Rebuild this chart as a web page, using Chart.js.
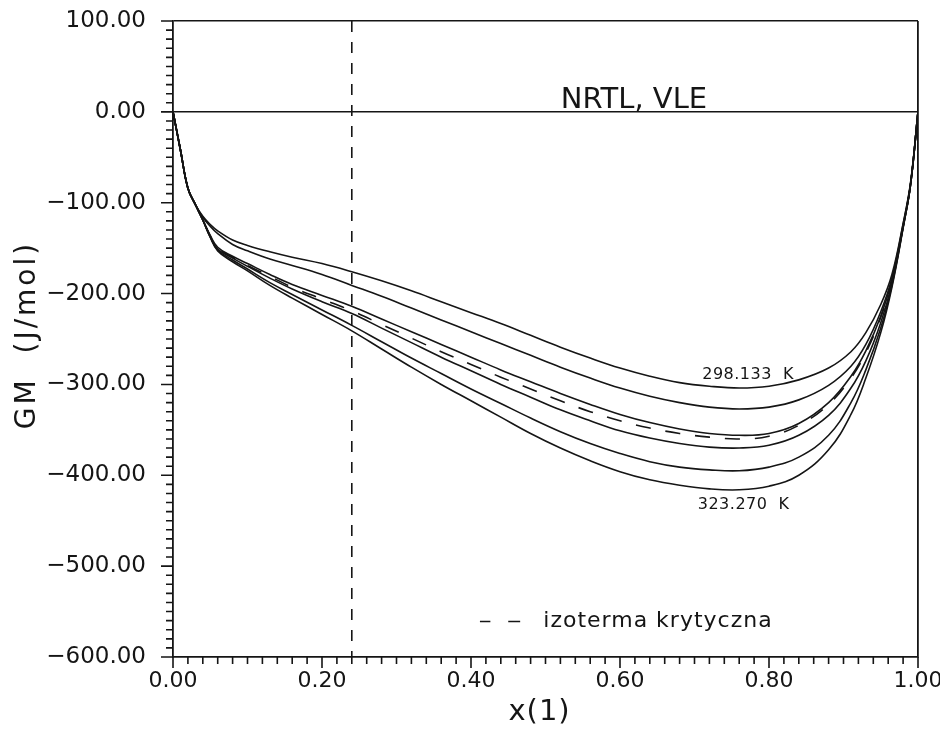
<!DOCTYPE html>
<html>
<head>
<meta charset="utf-8">
<script src="https://cdn.jsdelivr.net/npm/chart.js@4.4.0/dist/chart.umd.min.js"></script>
<style>
  html, body { margin: 0; padding: 0; background: #fff; }
  canvas { display: block; }
</style>
</head>
<body>
<canvas id="gm" width="940" height="729"></canvas>
<script>
// Mole fraction of component 1
const xMole = [0, 0.005, 0.01, 0.02, 0.03, 0.04, 0.05, 0.06, 0.08, 0.10,
               0.13, 0.16, 0.20, 0.24, 0.28, 0.32, 0.36, 0.40, 0.44, 0.48,
               0.52, 0.56, 0.60, 0.64, 0.68, 0.72, 0.76, 0.80, 0.84, 0.88,
               0.91, 0.93, 0.95, 0.965, 0.98, 0.99, 1.0];

// Gibbs energy of mixing, J/mol, one isotherm per array (top to bottom)
const gmT298 = [0, -21, -42, -84, -102, -115, -124, -131, -141, -147,
                -154, -160, -167, -176, -186, -197, -209, -221, -233, -246,
                -259, -271, -282, -291, -298, -302, -304, -302, -295, -282,
                -264, -243, -212, -179, -123, -78, 0];
const gmT2 = [0, -21, -42, -84, -102, -116, -126, -134, -146, -153,
              -162, -169, -179, -191, -203, -216, -229, -242, -255, -268,
              -281, -293, -304, -313, -320, -325, -327, -325, -317, -301,
              -280, -256, -220, -183, -124, -79, 0];
const gmT3 = [0, -21, -42, -84, -102, -119, -136, -149, -159, -167,
              -179, -190, -202, -214, -228, -242, -256, -270, -284, -297,
              -310, -322, -333, -342, -349, -354, -356, -354, -343, -320,
              -291, -263, -225, -185, -126, -80, 0];
const gmCritical = [0, -21, -42, -84, -102, -119, -137, -150, -160, -169,
                    -181, -193, -206, -219, -234, -249, -264, -278, -292, -305,
                    -318, -330, -340, -348, -354, -358, -360, -357, -345, -322,
                    -293, -265, -226, -186, -126, -80, 0];
const gmT4 = [0, -21, -42, -84, -102, -119, -137, -151, -161, -170,
              -183, -195, -209, -222, -238, -254, -270, -285, -300, -314,
              -328, -340, -351, -359, -365, -369, -370, -367, -356, -334,
              -304, -274, -232, -189, -127, -80, 0];
const gmT5 = [0, -21, -42, -84, -102, -119, -138, -152, -163, -173,
              -188, -201, -218, -235, -253, -271, -288, -305, -321, -337,
              -352, -365, -376, -385, -391, -394, -395, -391, -380, -356,
              -320, -284, -238, -191, -127, -80, 0];
const gmT323 = [0, -21, -42, -84, -102, -119, -138, -153, -165, -175,
                -191, -205, -223, -241, -261, -281, -300, -318, -336, -354,
                -370, -384, -396, -405, -411, -415, -416, -412, -400, -372,
                -333, -293, -243, -193, -128, -80, 0];

// Composition marker (vertical dashed line)
const markerX = 0.24;

// Axis tick values
const xTickValues = [0, 0.2, 0.4, 0.6, 0.8, 1.0];
const yTickValues = [100, 0, -100, -200, -300, -400, -500, -600];

const ink = '#151515';
const font = '"DejaVu Sans", "Liberation Sans", sans-serif';
Chart.defaults.font.family = font;
Chart.defaults.color = ink;

const pts = ys => xMole.map((x, i) => ({ x, y: ys[i] }));
const solid = ys => ({
  data: pts(ys), borderColor: ink, borderWidth: 1.6, pointRadius: 0,
  fill: false, tension: 0.4
});

const fmt = v => (v < 0 ? '\u2212' : '') + Math.abs(v).toFixed(2);

// Minor/major tick marks, annotations, legend and axis titles
const decor = {
  id: 'decor',
  afterDraw(chart) {
    const { ctx, chartArea: a, scales: { x, y } } = chart;
    ctx.save();
    ctx.strokeStyle = ink;
    ctx.lineWidth = 1.6;
    ctx.beginPath();
    for (let k = -60; k <= 10; k++) {
      const py = y.getPixelForValue(k * 10);
      const len = k % 10 === 0 ? 12 : 7;
      ctx.moveTo(a.left, py);
      ctx.lineTo(a.left - len, py);
    }
    for (let k = 0; k <= 50; k++) {
      const px = x.getPixelForValue(k / 50);
      const len = k % 10 === 0 ? 11 : 7;
      ctx.moveTo(px, a.bottom);
      ctx.lineTo(px, a.bottom + len);
    }
    ctx.stroke();

    ctx.fillStyle = ink;
    // title inside the plot
    ctx.font = '29px ' + font;
    ctx.textAlign = 'right';
    ctx.textBaseline = 'alphabetic';
    ctx.fillText('NRTL, VLE', x.getPixelForValue(0.717), y.getPixelForValue(4));

    // isotherm labels
    ctx.font = '16px ' + font;
    ctx.letterSpacing = '0.5px';
    ctx.textAlign = 'center';
    ctx.textBaseline = 'middle';
    ctx.fillText('298.133  K', x.getPixelForValue(0.772), y.getPixelForValue(-289));
    ctx.fillText('323.270  K', x.getPixelForValue(0.766), y.getPixelForValue(-433));

    // legend for the dashed curve
    const ly = y.getPixelForValue(-561);
    ctx.beginPath();
    ctx.moveTo(x.getPixelForValue(0.412), ly);
    ctx.lineTo(x.getPixelForValue(0.426), ly);
    ctx.moveTo(x.getPixelForValue(0.450), ly);
    ctx.lineTo(x.getPixelForValue(0.466), ly);
    ctx.stroke();
    ctx.font = '22px ' + font;
    ctx.letterSpacing = '1px';
    ctx.textAlign = 'left';
    ctx.textBaseline = 'alphabetic';
    ctx.fillText('izoterma krytyczna', x.getPixelForValue(0.497), y.getPixelForValue(-567));

    // horizontal axis title
    ctx.font = '29px ' + font;
    ctx.letterSpacing = '1px';
    ctx.textAlign = 'center';
    ctx.textBaseline = 'middle';
    ctx.fillText('x(1)', x.getPixelForValue(0.492), 712);

    // vertical axis title
    ctx.font = '28px ' + font;
    ctx.letterSpacing = '3px';
    ctx.translate(28, (a.top + a.bottom) / 2 - 4);
    ctx.rotate(-Math.PI / 2);
    ctx.fillText('GM  (J/mol)', 0, 0);
    ctx.restore();
  }
};

new Chart(document.getElementById('gm'), {
  type: 'line',
  data: {
    datasets: [
      solid(gmT298),
      solid(gmT2),
      solid(gmT3),
      Object.assign(solid(gmCritical), { borderDash: [15, 15] }),
      solid(gmT4),
      solid(gmT5),
      solid(gmT323),
      {
        data: [{ x: markerX, y: 100 }, { x: markerX, y: -600 }],
        borderColor: ink, borderWidth: 1.6, borderDash: [11, 10], pointRadius: 0
      }
    ]
  },
  options: {
    responsive: false,
    animation: false,
    devicePixelRatio: 1,
    layout: { padding: { left: 0, right: 22, top: 21, bottom: 0 } },
    plugins: { legend: { display: false }, tooltip: { enabled: false } },
    scales: {
      x: {
        type: 'linear', min: 0, max: 1,
        afterBuildTicks: s => { s.ticks = xTickValues.map(v => ({ value: v })); },
        afterFit: s => { s.height = 72; s.paddingLeft = 0; s.paddingRight = 0; },
        ticks: { callback: v => fmt(v), font: { size: 22 }, padding: 11, maxRotation: 0, autoSkip: false },
        grid: {
          drawTicks: false, tickLength: 0, lineWidth: 1.8,
          color: c => (c.tick && Math.abs(c.tick.value - 1) < 1e-9 ? ink : 'rgba(0,0,0,0)')
        },
        border: { display: true, color: ink, width: 1.8 }
      },
      y: {
        type: 'linear', min: -600, max: 100,
        afterBuildTicks: s => { s.ticks = yTickValues.map(v => ({ value: v })); },
        afterFit: s => { s.width = 173; s.paddingTop = 0; s.paddingBottom = 0; },
        ticks: { callback: v => fmt(v), font: { size: 23 }, padding: 27, autoSkip: false },
        grid: {
          drawTicks: false, tickLength: 0, lineWidth: 1.6,
          color: c => (c.tick && (c.tick.value === 0 || c.tick.value === 100) ? ink : 'rgba(0,0,0,0)')
        },
        border: { display: true, color: ink, width: 1.8 }
      }
    }
  },
  plugins: [decor]
});
</script>
</body>
</html>
